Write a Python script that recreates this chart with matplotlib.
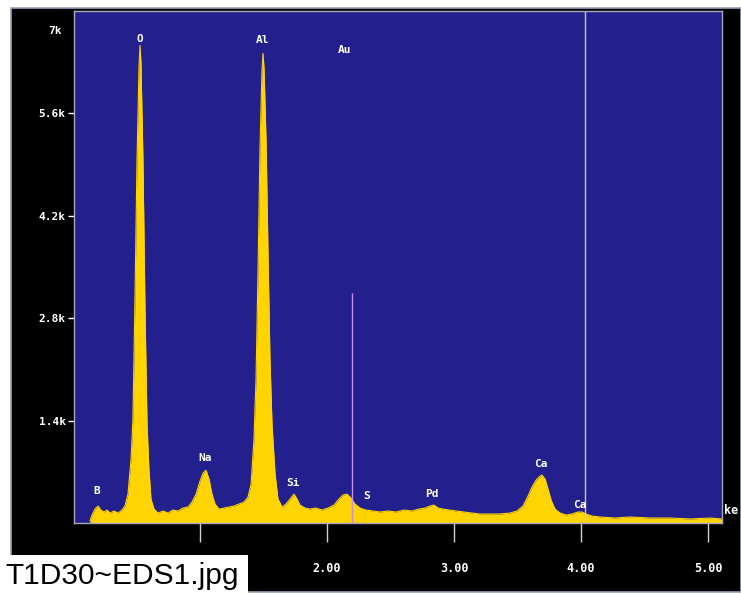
import matplotlib
matplotlib.use("Agg")
import matplotlib.pyplot as plt
from matplotlib.patches import Rectangle
import numpy as np

# spectrum: energy (keV) and counts
energy = [0.134, 0.150, 0.173, 0.197, 0.220, 0.244, 0.268, 0.291, 0.323, 0.354,
          0.386, 0.409, 0.433, 0.457, 0.472, 0.488, 0.504, 0.520, 0.528, 0.535,
          0.551, 0.567, 0.583, 0.598, 0.614, 0.638, 0.669, 0.709, 0.748, 0.787,
          0.827, 0.866, 0.906, 0.937, 0.969, 1.000, 1.024, 1.047, 1.071, 1.094,
          1.118, 1.150, 1.189, 1.228, 1.268, 1.307, 1.346, 1.378, 1.402, 1.425,
          1.441, 1.457, 1.472, 1.488, 1.496, 1.504, 1.520, 1.535, 1.551, 1.567,
          1.591, 1.614, 1.646, 1.677, 1.709, 1.740, 1.764, 1.787, 1.827, 1.866,
          1.913, 1.961, 2.008, 2.055, 2.094, 2.126, 2.157, 2.189, 2.220, 2.260,
          2.307, 2.362, 2.417, 2.480, 2.543, 2.606, 2.669, 2.724, 2.772, 2.811,
          2.843, 2.874, 2.913, 2.961, 3.016, 3.079, 3.142, 3.205, 3.283, 3.362,
          3.441, 3.496, 3.543, 3.583, 3.614, 3.646, 3.677, 3.693, 3.717, 3.740,
          3.764, 3.795, 3.835, 3.882, 3.929, 3.976, 4.008, 4.039, 4.087, 4.150,
          4.268, 4.386, 4.543, 4.701, 4.858, 5.016, 5.110]
counts = [30, 109, 191, 232, 177, 150, 177, 136, 164, 136,
          177, 232, 395, 872, 1418, 3053, 4961, 6256, 6529, 6297,
          4961, 2917, 1349, 736, 327, 191, 136, 164, 136, 177,
          164, 204, 218, 286, 395, 572, 681, 722, 600, 395,
          259, 191, 204, 218, 232, 259, 286, 354, 531, 1145,
          1963, 3462, 5098, 6188, 6420, 6215, 5234, 3735, 2235, 1349,
          668, 327, 218, 259, 327, 395, 327, 245, 204, 191,
          204, 177, 204, 245, 327, 382, 395, 341, 259, 204,
          177, 164, 150, 164, 150, 177, 164, 191, 204, 232,
          245, 204, 191, 177, 164, 150, 136, 123, 123, 123,
          136, 164, 232, 368, 491, 586, 641, 654, 600, 463,
          313, 191, 136, 109, 123, 150, 150, 123, 95, 82,
          68, 82, 68, 68, 55, 68, 55]

elements = ["O", "Al", "Au", "Na", "B", "Si", "S", "Pd", "Ca", "Ca"]
element_kev = [0.528, 1.496, 2.142, 1.039, 0.189, 1.732, 2.315, 2.827, 3.685, 3.992]
label_y = [6624, 6597, 6461, 886, 436, 545, 368, 395, 804, 245]

yticks = [1400, 2800, 4200, 5600]
ytick_labels = ["1.4k", "2.8k", "4.2k", "5.6k"]
xticks = [1, 2, 3, 4, 5]
# the 1.00 label is hidden under the file name box in the screenshot
xtick_labels = ["", "2.00", "3.00", "4.00", "5.00"]

W, H = 741, 594
BLUE = "#231f8c"
YELLOW = "#ffd400"
mono = "DejaVu Sans Mono"


def fx(x):
    return x / W


def fy(y):
    return 1 - y / H


fig = plt.figure(figsize=(W / 100, H / 100), dpi=100)
fig.patch.set_facecolor("white")

# black instrument frame behind the plot
fig.add_artist(Rectangle((fx(11), fy(592)), fx(741 - 11), (592 - 8) / H,
                         facecolor="black", edgecolor="#9aa0b8", lw=1.2,
                         zorder=-1))

ax = fig.add_axes([fx(74), fy(523), fx(722 - 74), (523 - 11) / H])
ax.set_facecolor(BLUE)
ax.fill_between(energy, counts, 0, color=YELLOW, lw=0)
ax.plot(energy, counts, color=YELLOW, lw=0.8)

# marker lines
ax.vlines(2.197, 0, 3150, color="#c890e8", lw=1)
ax.vlines(4.03, 0, 7000, color="#c8c8dc", lw=1)

for name, e, yy in zip(elements, element_kev, label_y):
    ax.text(e, yy, name, color="white", fontsize=8, fontweight="bold",
            family=mono, ha="center", va="center")

ax.set_xlim(0.008, 5.11)
ax.set_ylim(0, 7000)
ax.set_yticks(yticks)
ax.set_yticklabels(ytick_labels)
ax.set_xticks(xticks)
ax.set_xticklabels(xtick_labels)
ax.tick_params(axis="y", direction="out", length=4, width=1, color="white",
               labelcolor="white", labelsize=8, pad=2)
ax.tick_params(axis="x", direction="out", length=14, width=1, color="#d0d0d0",
               labelcolor="white", labelsize=8.5, pad=14)
for lab in ax.get_xticklabels() + ax.get_yticklabels():
    lab.set_family(mono)
    lab.set_fontweight("bold")
for s in ax.spines.values():
    s.set_color("#a8a8b8")
    s.set_linewidth(1)

# top y label sits below the frame edge
fig.text(fx(62), fy(31), "7k", color="white", fontsize=8, fontweight="bold",
         family=mono, ha="right", va="center")
# unit label, cut at the image edge in the screenshot
fig.text(fx(724), fy(511), "ke", color="white", fontsize=8.5,
         fontweight="bold", family=mono, ha="left", va="center")

# file name caption box
fig.add_artist(Rectangle((0, 0), fx(248), (594 - 555) / H, facecolor="white",
                         edgecolor="none", zorder=5))
fig.text(fx(5), fy(576), "T1D30~EDS1.jpg", color="black", fontsize=21.5,
         family="Liberation Sans", ha="left", va="center", zorder=6)

fig.savefig("out.png", dpi=100)
